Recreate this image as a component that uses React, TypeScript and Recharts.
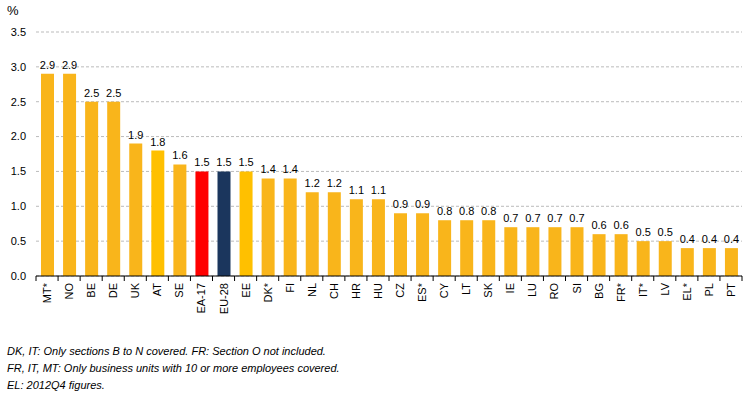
import { BarChart, Bar, XAxis, YAxis, CartesianGrid, Cell, LabelList } from "recharts";

const countries = [
  "MT*", "NO", "BE", "DE", "UK", "AT", "SE", "EA-17", "EU-28", "EE", "DK*", "FI", "NL", "CH", "HR", "HU",
  "CZ", "ES*", "CY", "LT", "SK", "IE", "LU", "RO", "SI", "BG", "FR*", "IT*", "LV", "EL*", "PL", "PT",
];
const values = [
  2.9, 2.9, 2.5, 2.5, 1.9, 1.8, 1.6, 1.5, 1.5, 1.5, 1.4, 1.4, 1.2, 1.2, 1.1, 1.1,
  0.9, 0.9, 0.8, 0.8, 0.8, 0.7, 0.7, 0.7, 0.7, 0.6, 0.6, 0.5, 0.5, 0.4, 0.4, 0.4,
];
const yTicks = [0, 0.5, 1, 1.5, 2, 2.5, 3, 3.5];
const footnotes = [
  "DK, IT: Only sections B to N covered. FR: Section O not included.",
  "FR, IT, MT: Only business units with 10 or more employees covered.",
  "EL: 2012Q4 figures.",
];

const colorFor = (c: string) => {
  if (c === "EA-17") return "#FF0000";
  if (c === "EU-28") return "#1B365D";
  if (c === "AT" || c === "EE") return "#FFC000";
  return "#F9B51B";
};

const data = countries.map((c, i) => ({ name: c, value: values[i] }));

const FONT = "'Liberation Sans', Arial, sans-serif";
const BAND = 706 / countries.length;

const XTick = (props: any) => {
  const { x, y, payload, index } = props;
  const left = x - BAND / 2;
  return (
    <g>
      <line x1={left} x2={left} y1={y - 8} y2={y - 3} stroke="#000" />
      {index === countries.length - 1 && (
        <line x1={left + BAND} x2={left + BAND} y1={y - 8} y2={y - 3} stroke="#000" />
      )}
      <text
        x={0}
        y={0}
        transform={`translate(${x},${y - 1}) rotate(-90)`}
        textAnchor="end"
        dominantBaseline="central"
        fontSize={11}
        fill="#000"
        fontFamily={FONT}
      >
        {payload.value}
      </text>
    </g>
  );
};

export default function App() {
  return (
    <div style={{ position: "absolute", left: 0, top: 0, width: 746, height: 394, background: "#fff", fontFamily: FONT }}>
      <div style={{ position: "absolute", left: 7, top: 3, fontSize: 13, color: "#000" }}>%</div>
      <BarChart
        width={746}
        height={340}
        data={data}
        margin={{ top: 32, right: 4, left: 0, bottom: 0 }}
        barCategoryGap={0}
      >
        <CartesianGrid vertical={false} stroke="#BBBBBB" strokeDasharray="3 2" />
        <YAxis
          domain={[0, 3.5]}
          ticks={yTicks}
          width={36}
          axisLine={false}
          tickLine={false}
          tickFormatter={(v: number) => v.toFixed(1)}
          tick={{ fontSize: 11, fill: "#000", fontFamily: FONT, dx: -2 }}
        />
        <XAxis
          dataKey="name"
          interval={0}
          height={64}
          axisLine={{ stroke: "#000" }}
          tickLine={false}
          tick={<XTick />}
        />
        <Bar dataKey="value" barSize={13} isAnimationActive={false}>
          {data.map((d) => (
            <Cell key={d.name} fill={colorFor(d.name)} />
          ))}
          <LabelList
            dataKey="value"
            position="top"
            offset={5}
            formatter={(v: number) => v.toFixed(1)}
            style={{ fontSize: 11, fill: "#000", fontFamily: FONT }}
          />
        </Bar>
      </BarChart>
      <div style={{ position: "absolute", left: 7, top: 343, fontSize: 11, fontStyle: "italic", lineHeight: "17px", color: "#000" }}>
        {footnotes.map((f) => (
          <div key={f}>{f}</div>
        ))}
      </div>
    </div>
  );
}
